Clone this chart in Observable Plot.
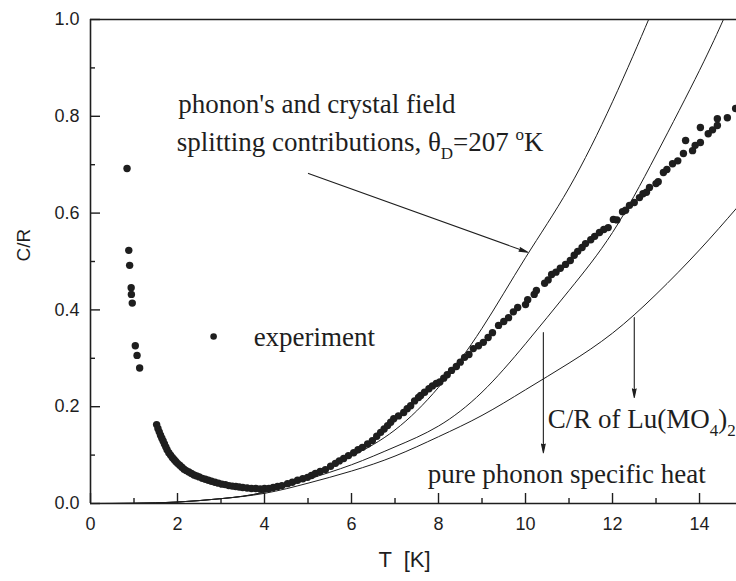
<!DOCTYPE html>
<html><head><meta charset="utf-8">
<script src="https://cdn.jsdelivr.net/npm/d3@7"></script>
<script src="https://cdn.jsdelivr.net/npm/@observablehq/plot@0.6"></script>
<style>body{margin:0;background:#fff} svg{display:block}</style>
</head><body><div id="chart"></div>
<script>
// experiment: temperature (K) and C/R
const expT = [0.84,0.88,0.90,0.935,0.94,0.96,1.03,1.07,1.13,
  1.52,1.55,1.58,1.61,1.64,1.67,1.70,1.73,1.76,1.80,1.84,1.88,1.92,1.96,2.00,2.05,2.10,2.15,2.20,2.26,2.32,2.38,2.44,2.50,2.57,2.64,2.71,2.78,2.86,2.94,3.02,3.10,3.18,3.26,3.34,3.42,3.50,3.60,3.70,3.80,3.90,4.00,4.10,4.20,4.30,4.40,4.53,4.64,4.76,4.88,4.99,5.08,5.17,5.28,5.40,5.52,5.63,5.72,5.82,5.93,6.05,6.15,6.25,6.37,6.48,6.58,6.67,6.75,6.83,6.90,6.97,7.08,7.20,7.28,7.36,7.45,7.54,7.59,7.68,7.78,7.86,7.95,8.03,8.12,8.20,8.30,8.41,8.50,8.60,8.70,8.80,8.92,9.03,9.14,9.24,9.38,9.50,9.61,9.72,9.82,10.00,10.05,10.20,10.25,10.44,10.52,10.60,10.70,10.80,10.92,11.03,11.12,11.20,11.30,11.38,11.50,11.59,11.70,11.80,11.90,12.02,12.10,12.23,12.30,12.39,12.50,12.62,12.70,12.78,12.85,13.00,13.05,13.17,13.25,13.38,13.50,13.63,13.68,13.84,13.90,14.02,14.02,14.20,14.30,14.41,14.41,14.64,14.83];
const expC = [0.692,0.523,0.492,0.446,0.432,0.414,0.326,0.306,0.280,
  0.163,0.155,0.148,0.141,0.135,0.129,0.123,0.117,0.111,0.105,0.100,0.095,0.091,0.087,0.083,0.079,0.075,0.071,0.068,0.065,0.062,0.059,0.057,0.055,0.052,0.050,0.048,0.046,0.044,0.042,0.040,0.039,0.037,0.036,0.035,0.034,0.033,0.032,0.031,0.031,0.030,0.031,0.031,0.033,0.035,0.037,0.041,0.044,0.048,0.051,0.054,0.058,0.062,0.066,0.070,0.077,0.083,0.088,0.093,0.099,0.105,0.111,0.116,0.123,0.130,0.139,0.147,0.154,0.161,0.168,0.175,0.181,0.188,0.196,0.202,0.212,0.219,0.223,0.230,0.237,0.243,0.248,0.251,0.259,0.266,0.275,0.283,0.292,0.302,0.308,0.320,0.326,0.333,0.343,0.353,0.368,0.376,0.384,0.396,0.405,0.411,0.421,0.432,0.440,0.455,0.462,0.473,0.478,0.486,0.494,0.502,0.513,0.521,0.529,0.537,0.545,0.552,0.560,0.566,0.570,0.587,0.586,0.603,0.606,0.616,0.622,0.632,0.640,0.643,0.653,0.661,0.665,0.684,0.690,0.702,0.708,0.723,0.750,0.729,0.740,0.746,0.777,0.764,0.772,0.781,0.795,0.797,0.816];

// model curves
const cfT = [0,1,2,3,4,5,6,7,8,9,10,11,12,12.83,13.2];
const cfC = [0,0.0005,0.003,0.010,0.024,0.058,0.098,0.152,0.240,0.362,0.508,0.652,0.830,1.0,1.08];
const luT = [0,1,2,3,4,5,6,7,8,9,10,11,12,13,14,14.55,14.85];
const luC = [0,0.0005,0.003,0.010,0.023,0.050,0.080,0.117,0.160,0.230,0.330,0.440,0.560,0.720,0.895,1.0,1.06];
const phT = [0,1,2,3,4,5,6,7,8,9,10,11,12,13,14,14.85];
const phC = [0,0.0005,0.003,0.010,0.021,0.042,0.067,0.098,0.138,0.182,0.235,0.290,0.352,0.432,0.524,0.610];

// ticks
const xMajor = [0,2,4,6,8,10,12,14];
const xMinor = [1,3,5,7,9,11,13];
const yMajor = [0,0.2,0.4,0.6,0.8,1.0];
const yMinor = [0.1,0.3,0.5,0.7,0.9];

// annotations (data coordinates)
const noteText = ["phonon's and crystal field", "splitting contributions, θ_{D}=207 ^{o}K", "experiment", "C/R of Lu(MO_{4})_{2}", "pure phonon specific heat"];
const noteT = [2.02, 1.98, 3.75, 10.51, 7.75];
const noteC = [0.806, 0.728, 0.326, 0.155, 0.043];
const legendDotT = [2.83], legendDotC = [0.345];
const arrowT1 = [5.01, 10.41, 12.5], arrowC1 = [0.682, 0.353, 0.384];
const arrowT2 = [10.05, 10.41, 12.5], arrowC2 = [0.519, 0.105, 0.219];

const exp = expT.map((t,i)=>({T:t, C:expC[i]}));
const mk = (T,C)=>T.map((t,i)=>({T:t, C:C[i]}));
const notes = noteText.map((s,i)=>({s, T:noteT[i], C:noteC[i]}));
const arrows = arrowT1.map((t,i)=>({x1:t,y1:arrowC1[i],x2:arrowT2[i],y2:arrowC2[i]}));

const W = 736, H = 581, ML = 90, MR = 0, MT = 19, MB = 78;
const fw = W-ML-MR, fh = H-MT-MB;
const ink = "#1e1e1e";
const sans = "'Liberation Sans', Arial, Helvetica, sans-serif";
const serif = "'Liberation Serif', 'Times New Roman', serif";

const plot = Plot.plot({
  width: W, height: H,
  marginLeft: ML, marginRight: MR, marginTop: MT, marginBottom: MB,
  style: {fontFamily: sans, fontSize: "18px", color: ink, background: "#fff"},
  x: {domain: [0, 14.85], axis: null},
  y: {domain: [0, 1], axis: null},
  marks: [
    Plot.line(mk(cfT,cfC), {x:"T", y:"C", curve:"natural", stroke: ink, strokeWidth: 1, clip: true}),
    Plot.line(mk(luT,luC), {x:"T", y:"C", curve:"natural", stroke: ink, strokeWidth: 1, clip: true}),
    Plot.line(mk(phT,phC), {x:"T", y:"C", curve:"natural", stroke: ink, strokeWidth: 1, clip: true}),
    Plot.dot(exp, {x:"T", y:"C", r: 3.7, fill: ink, stroke: "none"}),
    Plot.dot(legendDotT.map((t,i)=>({T:t, C:legendDotC[i]})), {x:"T", y:"C", r: 3.3, fill: ink}),
    Plot.arrow(arrows, {x1:"x1", y1:"y1", x2:"x2", y2:"y2", stroke: ink, strokeWidth: 1.1, headLength: 12, headAngle: 24}),
    Plot.text(notes, {x:"T", y:"C", text:"s", textAnchor:"start", lineAnchor:"bottom", fontFamily: serif, fontSize: 27, fill: ink}),
    // frame
    Plot.ruleY([0], {stroke: ink, strokeWidth: 1.6}),
    Plot.ruleY([1], {stroke: ink, strokeWidth: 1.6}),
    Plot.ruleX([0], {stroke: ink, strokeWidth: 1.6}),
    // inward ticks
    Plot.tickX(xMajor, {x: d=>d, insetTop: fh-10, stroke: ink, strokeWidth: 1.4}),
    Plot.tickX(xMinor, {x: d=>d, insetTop: fh-5, stroke: ink, strokeWidth: 1.4}),
    Plot.tickY(yMajor, {y: d=>d, insetRight: fw-10, stroke: ink, strokeWidth: 1.4}),
    Plot.tickY(yMinor, {y: d=>d, insetRight: fw-5, stroke: ink, strokeWidth: 1.4}),
    Plot.axisX(xMajor, {tickSize: 0, tickPadding: 14, label: null, fill: ink}),
    Plot.axisY(yMajor, {tickSize: 0, tickPadding: 11, label: null, tickFormat: d3.format(".1f"), fill: ink}),
    Plot.text(["C/R"], {frameAnchor: "left", dx: -67, rotate: -90, fontSize: 19, fill: ink}),
    Plot.text(["T  [K]"], {frameAnchor: "bottom", dy: 63, dx: -9, fontSize: 22, fill: ink})
  ]
});

const svg = d3.select(plot);
// axis tick label size
svg.selectAll("g[aria-label*='tick label'], g[aria-label*='tick label'] text")
  .style("font-size", "18px").style("font-family", sans);
// keep double space in x title
svg.selectAll("text").filter(function(){ return this.textContent === "T  [K]"; }).style("white-space", "pre").attr("xml:space", "preserve");
// filled arrow heads
svg.selectAll("g[aria-label='arrow'] path").attr("fill", ink).style("fill", ink);

// rich text: subscripts / superscripts
const NS = "http://www.w3.org/2000/svg";
svg.selectAll("text").each(function(){
  const s = this.textContent;
  if (!/[_^]\{/.test(s)) return;
  const parts = s.split(/([_^]\{[^}]*\})/);
  while (this.firstChild) this.removeChild(this.firstChild);
  let shift = 0;
  for (const p of parts) {
    if (!p) continue;
    const m = p.match(/^([_^])\{([^}]*)\}$/);
    const t = document.createElementNS(NS, "tspan");
    if (m) {
      const d = m[1] === "_" ? 8 : -11;
      t.setAttribute("dy", d - shift); shift = d;
      t.setAttribute("font-size", 17);
      t.textContent = m[2];
    } else {
      t.setAttribute("dy", -shift); shift = 0;
      t.textContent = p;
    }
    this.appendChild(t);
  }
});
document.getElementById("chart").appendChild(plot);
</script>
</body></html>
